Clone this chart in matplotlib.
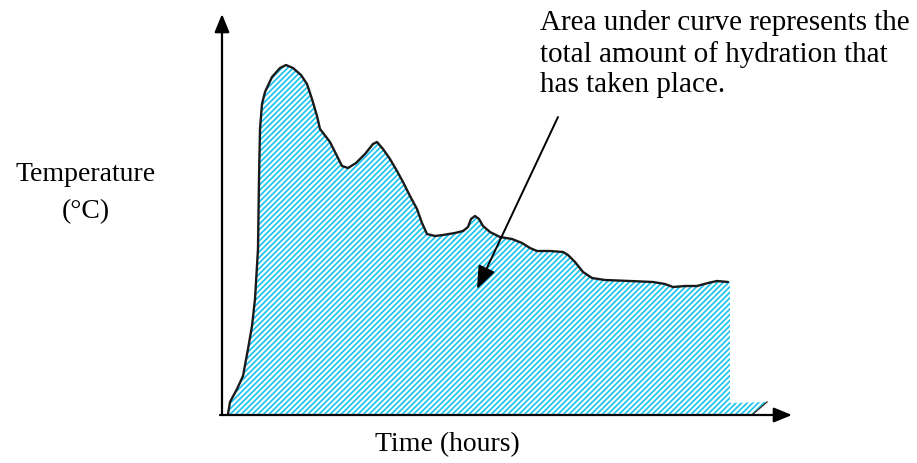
import matplotlib
matplotlib.use("Agg")
import matplotlib.pyplot as plt

# curve (arbitrary units, origin at the axes corner)
time_h = [0.3, 0.4, 0.75, 1.05, 1.3, 1.5, 1.65, 1.8, 1.85, 1.9, 2.0, 2.15, 2.5, 2.9,
          3.2, 3.55, 3.95, 4.25, 4.5, 4.75, 4.9, 5.4, 5.7, 6.0, 6.3, 6.7, 7.15, 7.55,
          7.75, 8.05, 8.4, 8.75, 9.05, 9.4, 9.75, 10.0, 10.25, 10.65, 11.05, 11.65,
          12.05, 12.3, 12.45, 12.65, 12.85, 13.05, 13.4, 13.9, 14.5, 15.0, 15.4,
          15.75, 16.4, 17.05, 17.3, 17.65, 18.05, 18.5, 19.15, 20.4, 21.55, 22.15,
          22.55, 23.15, 23.75, 24.3, 24.75, 25.3]
temp_c = [0.0, 1.2, 2.5, 3.8, 6.5, 8.8, 11.5, 16.5, 23.5, 28.5, 31.0, 32.2, 33.7, 34.6,
          34.9, 34.6, 33.9, 33.0, 31.5, 29.8, 28.5, 27.2, 26.0, 24.8, 24.6, 25.1, 26.0,
          27.0, 27.2, 26.5, 25.5, 24.3, 23.2, 21.8, 20.5, 19.1, 18.0, 17.8, 17.9, 18.1,
          18.3, 18.7, 19.5, 19.8, 19.5, 18.8, 18.2, 17.7, 17.5, 17.1, 16.6,
          16.3, 16.3, 16.2, 15.9, 15.2, 14.2, 13.6, 13.4, 13.3, 13.2, 13.0,
          12.7, 12.8, 12.8, 13.1, 13.3, 13.2]

# the shaded area is cut off at the end, with a thin strip running on
tail_time = [25.4, 25.4, 27.25, 26.55]
tail_temp = [13.2, 1.1, 1.2, 0.0]

note = "Area under curve represents the\ntotal amount of hydration that\nhas taken place."

plt.rcParams['font.family'] = ['Liberation Serif', 'DejaVu Serif']
plt.rcParams['hatch.linewidth'] = 1.25

fig = plt.figure(figsize=(9.17, 4.64), dpi=100)
ax = fig.add_axes([0, 0, 1, 1])
ax.set_xlim(-11.1, 34.75)
ax.set_ylim(-4.9, 41.5)
ax.axis('off')

cyan = '#1cc4f0'
ax.fill(time_h + tail_time, temp_c + tail_temp, facecolor='white',
        edgecolor=cyan, hatch='//////', linewidth=0)
ax.plot(time_h, temp_c, color='#1a1a1a', lw=1.7, solid_capstyle='round')
ax.plot(tail_time[2:], tail_temp[2:], color='#333333', lw=1.0)

# axes with arrow heads
head = dict(arrowstyle='-|>,head_length=1.1,head_width=0.45', color='black',
            lw=1.6, shrinkA=0, shrinkB=0)
ax.annotate('', xy=(0, 40.0), xytext=(0, -0.1), arrowprops=head)
ax.annotate('', xy=(28.5, -0.1), xytext=(-0.1, -0.1), arrowprops=head)

# pointer from the note into the shaded area
ax.annotate('', xy=(12.75, 12.5), xytext=(16.8, 29.7),
            arrowprops=dict(arrowstyle='-|>,head_length=1.4,head_width=0.55',
                            color='black', lw=1.4, shrinkA=0, shrinkB=0))

ax.text(15.9, 40.5, note, fontsize=21, va='top', ha='left', linespacing=1.22)
ax.text(-6.8, 22.2, "Temperature\n(°C)", fontsize=20, va='center', ha='center',
        linespacing=1.65)
ax.text(11.25, -3.0, "Time (hours)", fontsize=20, va='center', ha='center')

fig.savefig('out.png', dpi=100)
